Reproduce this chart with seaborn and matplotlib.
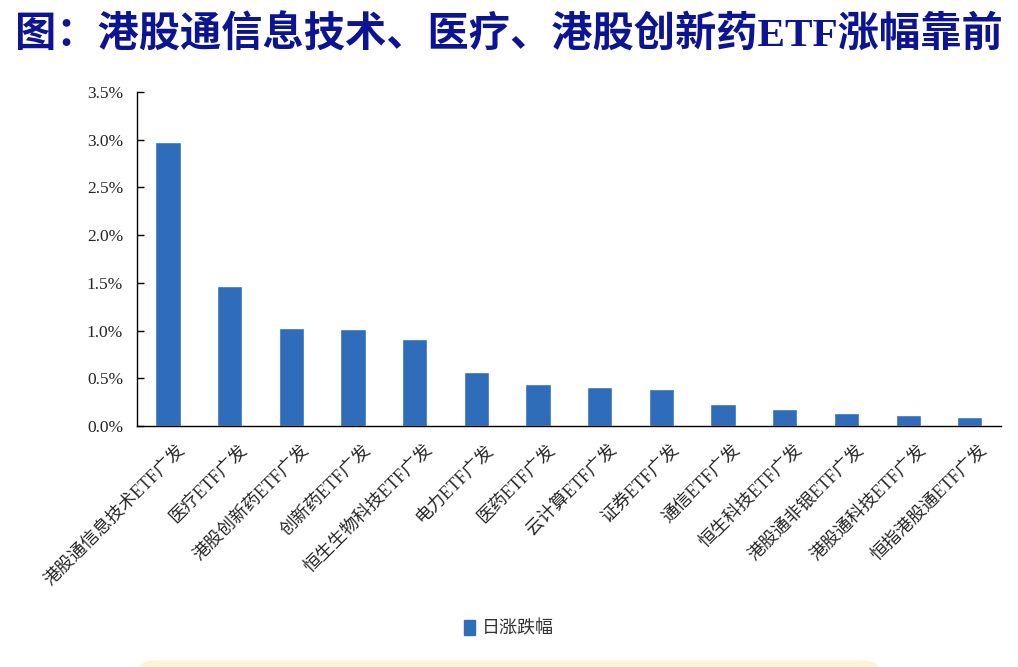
import pandas as pd
import seaborn as sns
import matplotlib.pyplot as plt
from matplotlib.ticker import PercentFormatter, FixedLocator, MultipleLocator
from matplotlib.patches import FancyBboxPatch
from matplotlib.transforms import ScaledTranslation

# ETF names and daily change (%)
etf_names = ['港股通信息技术ETF广发', '医疗ETF广发', '港股创新药ETF广发', '创新药ETF广发',
             '恒生生物科技ETF广发', '电力ETF广发', '医药ETF广发', '云计算ETF广发',
             '证券ETF广发', '通信ETF广发', '恒生科技ETF广发', '港股通非银ETF广发',
             '港股通科技ETF广发', '恒指港股通ETF广发']
daily_change = [2.98, 1.47, 1.03, 1.02, 0.91, 0.57, 0.44, 0.41, 0.39, 0.23, 0.18, 0.14, 0.12, 0.09]
series_name = '日涨跌幅'
title_text = '图：港股通信息技术、医疗、港股创新药ETF涨幅靠前'

df = pd.DataFrame({'etf': etf_names, 'change': daily_change, 'series': series_name})

sns.set_style('white')
plt.rcParams['font.family'] = ['Noto Sans CJK SC', 'DejaVu Sans']
mixed = ['Liberation Serif', 'Noto Sans CJK SC']
bar_color = '#2F6DBA'

fig = plt.figure(figsize=(10.18, 6.67), dpi=100)
ax = fig.add_axes([0.1346, 0.3613, 0.8484, 0.5007])

sns.barplot(data=df, x='etf', y='change', hue='series', palette=[bar_color],
            width=0.41, saturation=1, ax=ax, legend=False)

ax.set_xlim(-0.5, len(etf_names) - 0.5)
ax.set_ylim(0, 3.5)
ax.yaxis.set_major_locator(MultipleLocator(0.5))
ax.yaxis.set_major_formatter(PercentFormatter(xmax=100, decimals=1))
ax.set_xlabel('')
ax.set_ylabel('')

for s in ['top', 'right']:
    ax.spines[s].set_visible(False)
for s in ['left', 'bottom']:
    ax.spines[s].set_color('black')
    ax.spines[s].set_linewidth(1.0)

# labels on categories, tick marks between categories
ax.set_xticks(range(len(etf_names)))
ax.set_xticklabels(etf_names, rotation=45, ha='right', rotation_mode='anchor',
                   family=mixed, fontsize=12.8)
ax.tick_params(axis='x', which='major', length=0, pad=6)
shift = ScaledTranslation(0.09, -0.07, fig.dpi_scale_trans)
for lab in ax.get_xticklabels():
    lab.set_transform(lab.get_transform() + shift)
ax.xaxis.set_minor_locator(FixedLocator([i - 0.5 for i in range(len(etf_names) + 1)]))
ax.tick_params(axis='x', which='minor', direction='in', length=6, width=1, color='black')
ax.tick_params(axis='y', direction='in', length=5, width=1, color='black', pad=10,
               left=True)
for lab in ax.get_yticklabels():
    lab.set_family('Liberation Serif')
    lab.set_fontsize(12.5)

# legend
handle = plt.Rectangle((0, 0), 1, 1, color=bar_color)
fig.legend([handle], [series_name], loc='center', bbox_to_anchor=(0.5, 0.058),
           frameon=False, handlelength=0.6, handleheight=0.9, handletextpad=0.4,
           prop={'family': 'Noto Sans CJK SC', 'size': 13}, labelcolor='#333333')

fig.text(0.015, 0.946, title_text, ha='left', va='center', fontsize=29.7,
         fontweight='bold', color='#0D1493', family=mixed)

# faint decoration box at page bottom
fig.patches.append(FancyBboxPatch((0.135, -0.02), 0.73, 0.03, boxstyle='round,pad=0,rounding_size=0.02',
                                  transform=fig.transFigure, facecolor='#FDF3D8',
                                  edgecolor='none', zorder=0))

fig.savefig('out.png', dpi=100)
